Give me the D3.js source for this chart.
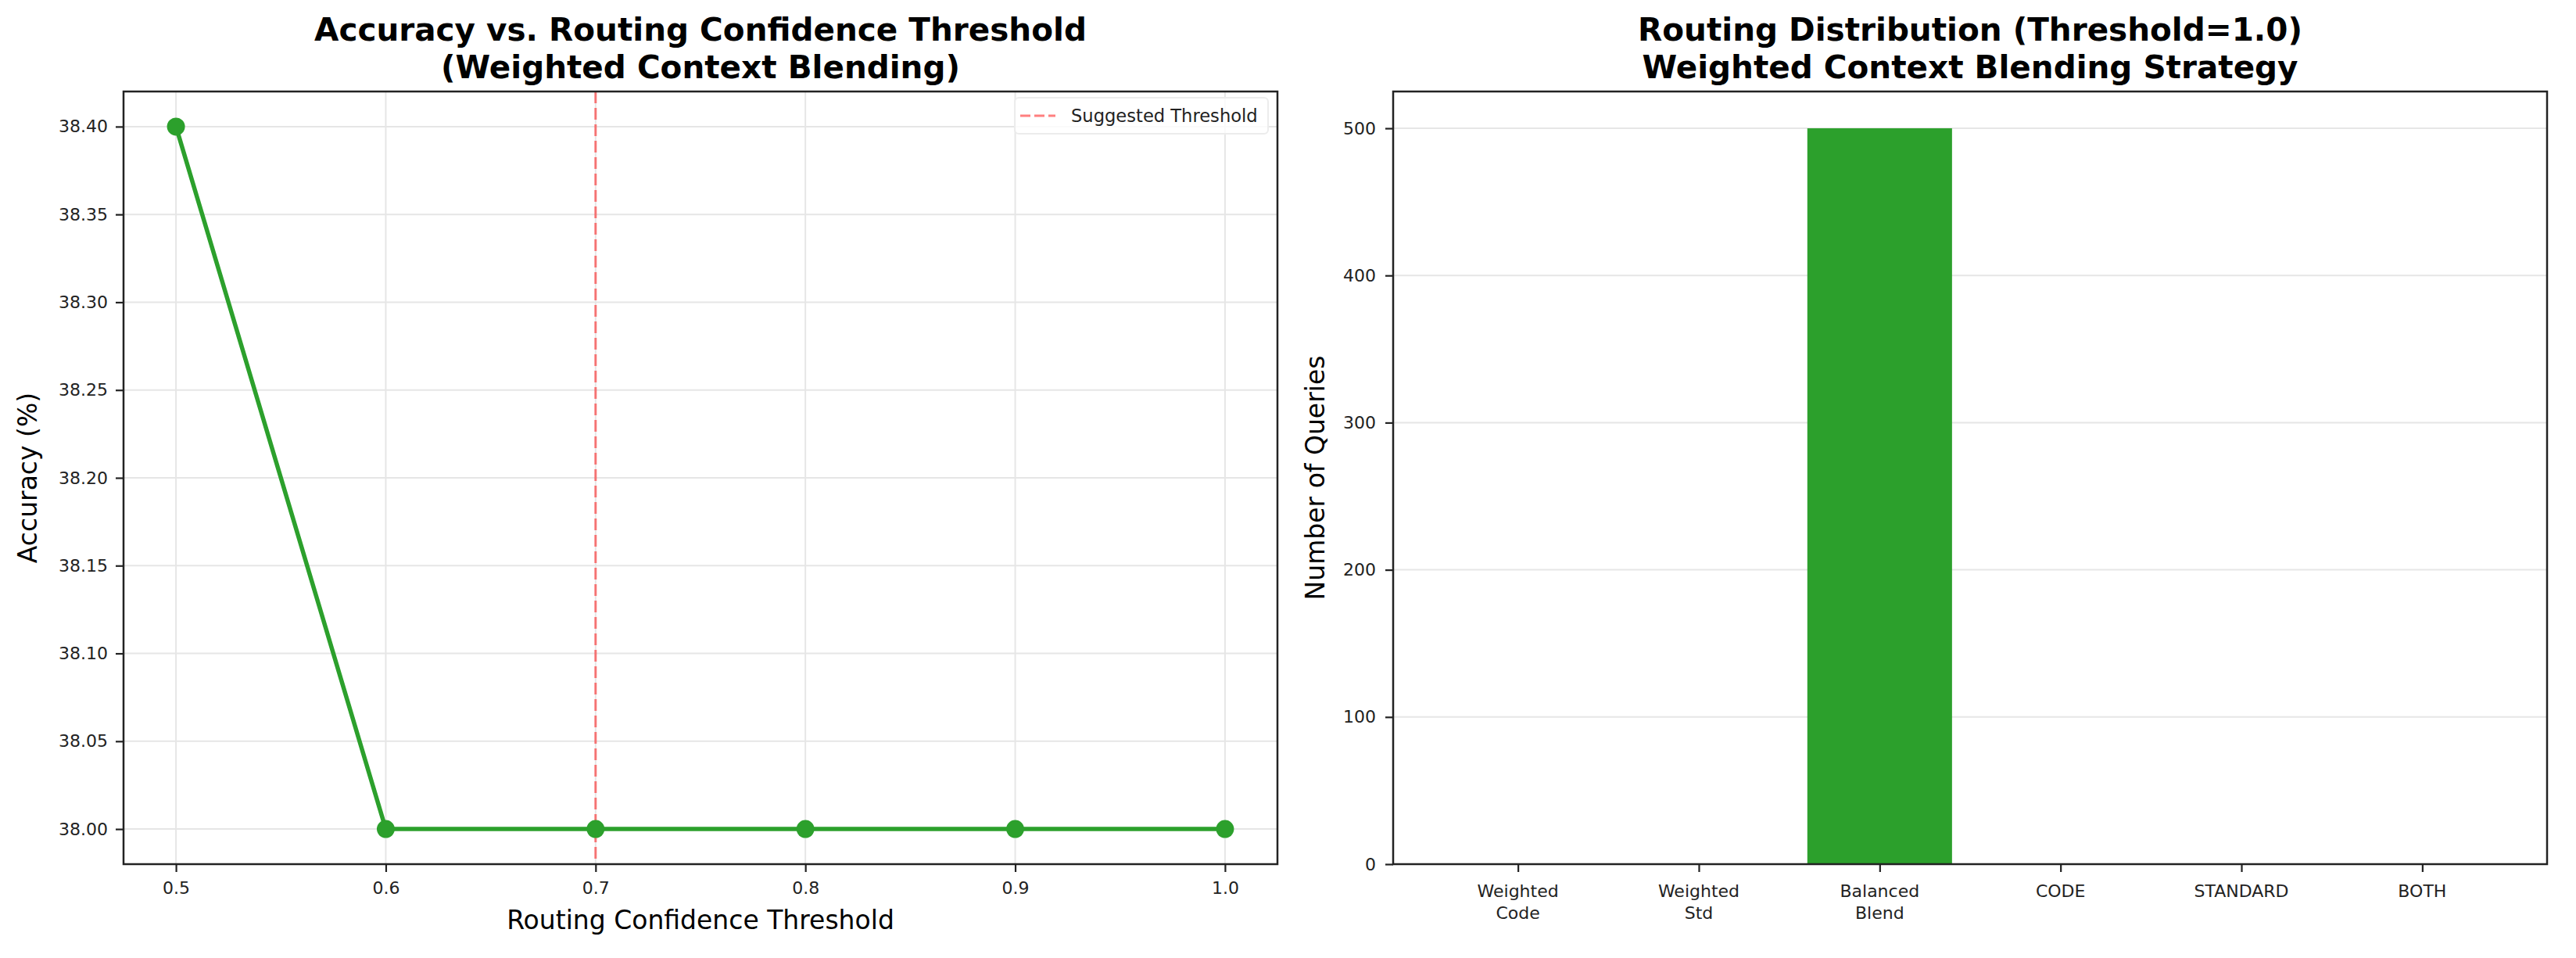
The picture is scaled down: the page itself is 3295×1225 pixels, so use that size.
<!DOCTYPE html>
<html><head><meta charset="utf-8">
<script src="https://cdn.jsdelivr.net/npm/d3@7/dist/d3.min.js"></script>
<style>
html,body{margin:0;padding:0;background:#fff;}
svg text{font-family:"DejaVu Sans",sans-serif;}
</style></head>
<body><svg id="c" width="3295" height="1225"></svg>
<script>
const thresholds = [0.5, 0.6, 0.7, 0.8, 0.9, 1.0];
const accuracy = [38.40, 38.00, 38.00, 38.00, 38.00, 38.00];
const accTicks = [38.00, 38.05, 38.10, 38.15, 38.20, 38.25, 38.30, 38.35, 38.40];
const suggestedThreshold = 0.7;
const categories = ["Weighted\nCode", "Weighted\nStd", "Balanced\nBlend", "CODE", "STANDARD", "BOTH"];
const counts = [0, 0, 500, 0, 0, 0];
const countTicks = [0, 100, 200, 300, 400, 500];

const svg = d3.select("#c");
const green = "#2ca02c";
const yTop = 117, yBot = 1105;
const gridCol = "#e6e6e6";

// ---------- Left panel ----------
const L = {x0: 158, x1: 1634};
const xs = d3.scaleLinear().domain([0.475, 1.025]).range([L.x0, L.x1]);
const ys = d3.scaleLinear().domain([37.98, 38.42]).range([yBot, yTop]);
const gl = svg.append("g");

gl.selectAll(".vg").data(thresholds).join("line")
  .attr("x1", d => xs(d)).attr("x2", d => xs(d)).attr("y1", yTop).attr("y2", yBot)
  .attr("stroke", gridCol).attr("stroke-width", 2);
gl.selectAll(".hg").data(accTicks).join("line")
  .attr("x1", L.x0).attr("x2", L.x1).attr("y1", d => ys(d)).attr("y2", d => ys(d))
  .attr("stroke", gridCol).attr("stroke-width", 2);

gl.append("line").attr("x1", xs(suggestedThreshold)).attr("x2", xs(suggestedThreshold))
  .attr("y1", yTop).attr("y2", yBot)
  .attr("stroke", "rgba(255,0,0,0.5)").attr("stroke-width", 3).attr("stroke-dasharray", "15,6");

const pts = thresholds.map((t, i) => [t, accuracy[i]]);
gl.append("path").datum(pts)
  .attr("d", d3.line().x(d => xs(d[0])).y(d => ys(d[1])))
  .attr("fill", "none").attr("stroke", green).attr("stroke-width", 5.5);
gl.selectAll(".pt").data(pts).join("circle")
  .attr("cx", d => xs(d[0])).attr("cy", d => ys(d[1])).attr("r", 11.5).attr("fill", green);

const axL = gl.append("g").attr("transform", `translate(${L.x0},0)`)
  .call(d3.axisLeft(ys).tickValues(accTicks).tickFormat(d3.format(".2f")).tickSize(10).tickPadding(10));
const axB = gl.append("g").attr("transform", `translate(0,${yBot})`)
  .call(d3.axisBottom(xs).tickValues(thresholds).tickFormat(d3.format(".1f")).tickSize(10).tickPadding(12));
[axL, axB].forEach(a => {
  a.select(".domain").remove();
  a.selectAll("line").attr("stroke", "#222").attr("stroke-width", 2.2);
  a.selectAll("text").attr("font-size", 22).attr("fill", "#222").attr("font-family", "DejaVu Sans");
});
gl.append("rect").attr("x", L.x0).attr("y", yTop).attr("width", L.x1 - L.x0).attr("height", yBot - yTop)
  .attr("fill", "none").attr("stroke", "#222").attr("stroke-width", 2.5);

const lg = gl.append("g");
lg.append("rect").attr("x", 1298).attr("y", 125).attr("width", 324).attr("height", 46).attr("rx", 5)
  .attr("fill", "rgba(255,255,255,0.8)").attr("stroke", "#ececec").attr("stroke-width", 2);
lg.append("line").attr("x1", 1305).attr("x2", 1350).attr("y1", 148).attr("y2", 148)
  .attr("stroke", "rgba(255,0,0,0.5)").attr("stroke-width", 3).attr("stroke-dasharray", "13,5");
lg.append("text").attr("x", 1370).attr("y", 148).attr("dy", "0.35em").attr("font-size", 22.6)
  .attr("fill", "#222").text("Suggested Threshold");

gl.append("text").attr("x", (L.x0 + L.x1) / 2).attr("y", 1176).attr("dy", "0.35em")
  .attr("text-anchor", "middle").attr("font-size", 33).text("Routing Confidence Threshold");
gl.append("text").attr("transform", `translate(35,${(yTop + yBot) / 2}) rotate(-90)`).attr("dy", "0.35em")
  .attr("text-anchor", "middle").attr("font-size", 33).text("Accuracy (%)");
gl.append("text").attr("x", (L.x0 + L.x1) / 2).attr("y", 38).attr("dy", "0.35em")
  .attr("text-anchor", "middle").attr("font-size", 40.5).attr("font-weight", "bold")
  .text("Accuracy vs. Routing Confidence Threshold");
gl.append("text").attr("x", (L.x0 + L.x1) / 2).attr("y", 86).attr("dy", "0.35em")
  .attr("text-anchor", "middle").attr("font-size", 40.5).attr("font-weight", "bold")
  .text("(Weighted Context Blending)");

// ---------- Right panel ----------
const R = {x0: 1782, x1: 3258};
const xb = d3.scaleLinear().domain([-0.69, 5.69]).range([R.x0, R.x1]);
const yb = d3.scaleLinear().domain([0, 525]).range([yBot, yTop]);
const gr = svg.append("g");

gr.selectAll(".hg").data(countTicks).join("line")
  .attr("x1", R.x0).attr("x2", R.x1).attr("y1", d => yb(d)).attr("y2", d => yb(d))
  .attr("stroke", gridCol).attr("stroke-width", 2);

gr.selectAll(".bar").data(counts).join("rect")
  .attr("x", (d, i) => xb(i - 0.4)).attr("width", (d, i) => xb(i + 0.4) - xb(i - 0.4))
  .attr("y", d => yb(d)).attr("height", d => yb(0) - yb(d)).attr("fill", green);

const axRL = gr.append("g").attr("transform", `translate(${R.x0},0)`)
  .call(d3.axisLeft(yb).tickValues(countTicks).tickFormat(d3.format("d")).tickSize(10).tickPadding(12));
const axRB = gr.append("g").attr("transform", `translate(0,${yBot})`)
  .call(d3.axisBottom(xb).tickValues(d3.range(categories.length)).tickFormat(() => "").tickSize(10));
[axRL, axRB].forEach(a => {
  a.select(".domain").remove();
  a.selectAll("line").attr("stroke", "#222").attr("stroke-width", 2.2);
  a.selectAll("text").attr("font-size", 22).attr("fill", "#222").attr("font-family", "DejaVu Sans");
});
categories.forEach((c, i) => {
  const lines = c.split("\n");
  const t = gr.append("text").attr("text-anchor", "middle").attr("font-size", 22).attr("fill", "#222");
  lines.forEach((ln, j) => {
    t.append("tspan").attr("x", xb(i)).attr("y", 1139 + j * 28).attr("dy", "0.35em").text(ln);
  });
});
gr.append("rect").attr("x", R.x0).attr("y", yTop).attr("width", R.x1 - R.x0).attr("height", yBot - yTop)
  .attr("fill", "none").attr("stroke", "#222").attr("stroke-width", 2.5);

gr.append("text").attr("transform", `translate(1682,${(yTop + yBot) / 2}) rotate(-90)`).attr("dy", "0.35em")
  .attr("text-anchor", "middle").attr("font-size", 33).text("Number of Queries");
gr.append("text").attr("x", (R.x0 + R.x1) / 2).attr("y", 38).attr("dy", "0.35em")
  .attr("text-anchor", "middle").attr("font-size", 40.5).attr("font-weight", "bold")
  .text("Routing Distribution (Threshold=1.0)");
gr.append("text").attr("x", (R.x0 + R.x1) / 2).attr("y", 86).attr("dy", "0.35em")
  .attr("text-anchor", "middle").attr("font-size", 40.5).attr("font-weight", "bold")
  .text("Weighted Context Blending Strategy");
</script></body></html>
